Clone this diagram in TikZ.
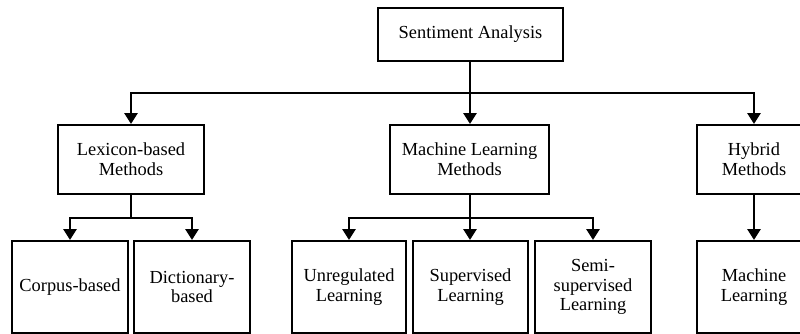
\documentclass[tikz,border=0pt]{standalone}
\usepackage{fontspec}
\setmainfont{Liberation Serif}
\usetikzlibrary{arrows.meta}
\tikzset{
  box/.style={draw, line width=1pt, rectangle, align=center, inner sep=1pt,
    font=\fontsize{9.2}{9.8}\selectfont},
  topbox/.style={box, minimum width=92.5pt, minimum height=26.5pt},
  midbox/.style={box, minimum height=34.5pt},
  leafbox/.style={box, minimum height=46pt},
  link/.style={line width=1.4pt},
  arr/.style={link, -{Triangle[width=6.5pt,length=5.5pt]}}
}
\begin{document}
\begin{tikzpicture}[x=0.5pt, y=-0.5pt]
  \useasboundingbox (0,0) rectangle (800,333);
  \clip (0,0) rectangle (800,333);

  % root
  \node[topbox] (root) at (470.5,34.5) {Sentiment Analysis};

  % method families
  \node[midbox, minimum width=73pt]   (lex) at (131,159.5) {Lexicon-based\\Methods};
  \node[midbox, minimum width=79.5pt] (ml)  at (469.5,159.5) {Machine Learning\\Methods};
  \node[midbox, minimum width=57pt]   (hyb) at (754,159.5) {Hybrid\\Methods};

  % leaves
  \node[leafbox, minimum width=58pt]   (corp) at (70,287) {Corpus-based};
  \node[leafbox, minimum width=58pt]   (dict) at (192,287) {Dictionary-\\based};
  \node[leafbox, minimum width=57pt]   (unre) at (349,287) {Unregulated\\Learning};
  \node[leafbox, minimum width=57.5pt] (supe) at (470.5,287) {Supervised\\Learning};
  \node[leafbox, minimum width=58pt]   (semi) at (593,287) {Semi-\\supervised\\Learning};
  \node[leafbox, minimum width=57pt]   (hml)  at (754,287) {Machine\\Learning};

  % junction points of the connector trees
  \coordinate (j0) at (470,93);
  \coordinate (j1) at (131,218);
  \coordinate (j2) at (470,218);

  % root to families
  \draw[link] (root.south -| j0) -- (j0);
  \draw[arr] (j0) -| (lex.north);
  \draw[arr] (j0) -- (j0 |- ml.north);
  \draw[arr] (j0) -| (hyb.north);

  % lexicon branch
  \draw[link] (lex.south) -- (j1);
  \draw[arr] (j1) -| (corp.north);
  \draw[arr] (j1) -| (dict.north);

  % machine learning branch
  \draw[link] (ml.south -| j2) -- (j2);
  \draw[arr] (j2) -| (unre.north);
  \draw[arr] (j2) -- (j2 |- supe.north);
  \draw[arr] (j2) -| (semi.north);

  % hybrid branch
  \draw[arr] (hyb.south) -- (hml.north);
\end{tikzpicture}
\end{document}
